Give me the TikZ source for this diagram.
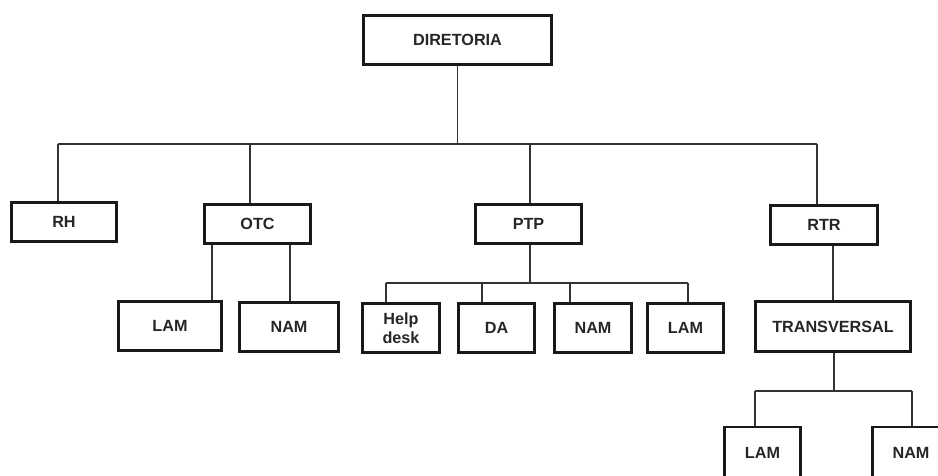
\documentclass[tikz,border=0pt]{standalone}
\usepackage{fontspec}
\setmainfont{Liberation Sans}
\begin{document}
\begin{tikzpicture}[x=1pt,y=-1pt,
  box/.style={draw=black!90, line width=2.6pt, inner sep=0pt, text=black!85,
    font=\bfseries\fontsize{16.2}{18.5}\selectfont, align=center},
  conn/.style={draw=black!80, line width=1.3pt}]
\useasboundingbox (0,0) rectangle (938,476);
\clip (0,0) rectangle (938,476);
% boxes
\node[box, minimum width=188pt, minimum height=49pt] (dir) at (457.5,40) {DIRETORIA};
\node[box, minimum width=105pt, minimum height=39pt] (rh) at (64,222) {RH};
\node[box, minimum width=106pt, minimum height=39pt] (otc) at (257.5,224) {OTC};
\node[box, minimum width=106pt, minimum height=39pt] (ptp) at (528.5,224) {PTP};
\node[box, minimum width=107pt, minimum height=39pt] (rtr) at (824,225) {RTR};
\node[box, minimum width=103pt, minimum height=49pt] (lam1) at (170,326) {LAM};
\node[box, minimum width=99pt, minimum height=49pt] (nam1) at (289,327) {NAM};
\node[box, minimum width=77pt, minimum height=49pt] (help) at (401,328) {Help\\desk};
\node[box, minimum width=76pt, minimum height=49pt] (da) at (496.5,328) {DA};
\node[box, minimum width=77pt, minimum height=49pt] (nam2) at (593,328) {NAM};
\node[box, minimum width=76pt, minimum height=49pt] (lam2) at (685.5,328) {LAM};
\node[box, minimum width=155pt, minimum height=50pt] (trans) at (833,326.5) {TRANSVERSAL};
\node[box, minimum width=76pt, minimum height=51pt] (lam3) at (762.5,452.5) {LAM};
\node[box, minimum width=77pt, minimum height=51pt] (nam3) at (911,452.5) {NAM};
% bus coordinates
\coordinate (b0) at (457.5,144);
\coordinate (bl) at (58,144);
\coordinate (br) at (817,144);
\coordinate (botc) at (250,144);
\coordinate (bptp) at (530,144);
\coordinate (o1) at (212,245);
\coordinate (o2) at (290,245);
\coordinate (p0) at (530,283);
\coordinate (p1) at (386,283);
\coordinate (p2) at (482,283);
\coordinate (p3) at (570,283);
\coordinate (p4) at (688,283);
\coordinate (r1) at (833,246);
\coordinate (t0) at (834,391);
\coordinate (t1) at (755,391);
\coordinate (t2) at (912,391);
% connectors
\draw[conn] (dir.south) -- (b0);
\draw[conn] (bl) -- (br);
\draw[conn] (bl) -- (bl |- rh.north);
\draw[conn] (botc) -- (botc |- otc.north);
\draw[conn] (bptp) -- (bptp |- ptp.north);
\draw[conn] (br) -- (br |- rtr.north);
\draw[conn] (o1 |- otc.south) -- (o1 |- lam1.north);
\draw[conn] (o2 |- otc.south) -- (o2 |- nam1.north);
\draw[conn] (p0 |- ptp.south) -- (p0);
\draw[conn] (p1) -- (p4);
\draw[conn] (p1) -- (p1 |- help.north);
\draw[conn] (p2) -- (p2 |- da.north);
\draw[conn] (p3) -- (p3 |- nam2.north);
\draw[conn] (p4) -- (p4 |- lam2.north);
\draw[conn] (r1 |- rtr.south) -- (r1 |- trans.north);
\draw[conn] (t0 |- trans.south) -- (t0);
\draw[conn] (t1) -- (t2);
\draw[conn] (t1) -- (t1 |- lam3.north);
\draw[conn] (t2) -- (t2 |- nam3.north);
\end{tikzpicture}
\end{document}
